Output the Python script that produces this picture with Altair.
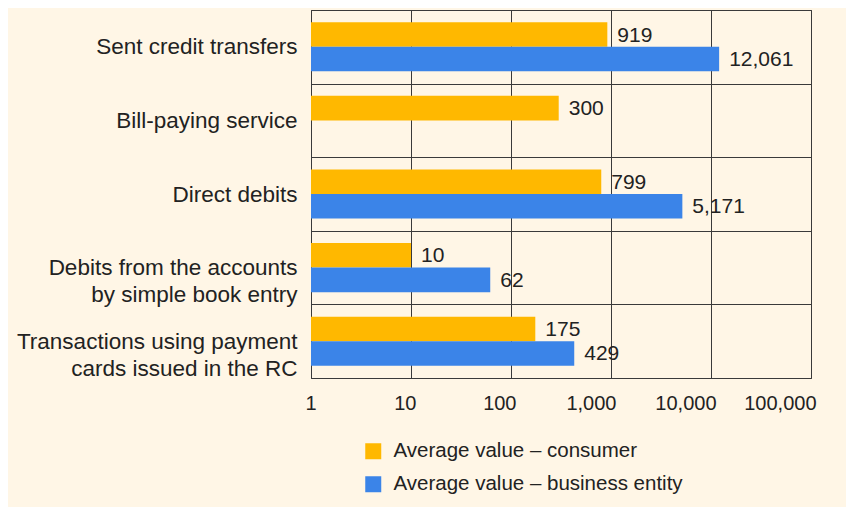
import altair as alt
import pandas as pd

categories = [
    "Sent credit transfers",
    "Bill-paying service",
    "Direct debits",
    "Debits from the accounts\nby simple book entry",
    "Transactions using payment\ncards issued in the RC",
]
consumer = [919, 300, 799, 10, 175]
business = [12061, None, 5171, 62, 429]
series = ["Average value – consumer", "Average value – business entity"]
colors = ["#FFB800", "#3B84E8"]
x_ticks = [1, 10, 100, 1000, 10000, 100000]

rows = []
for c, a, b in zip(categories, consumer, business):
    rows.append({"category": c, "series": series[0], "value": a})
    if b is not None:
        rows.append({"category": c, "series": series[1], "value": b})
df = pd.DataFrame(rows)

FONT = "Liberation Sans"
TEXT = "#222222"
LINE = "#3a3a3a"

base = alt.Chart(df).encode(
    y=alt.Y(
        "category:N",
        sort=categories,
        title=None,
        scale=alt.Scale(paddingInner=0, paddingOuter=0),
        axis=alt.Axis(
            tickBand="extent",
            ticks=False,
            domain=False,
            grid=True,
            labelExpr="split(datum.label, '\\n')",
            labelFontSize=22.5,
            labelLineHeight=27,
            labelPadding=14,
            labelLimit=400,
        ),
    ),
    yOffset=alt.YOffset(
        "series:N", sort=series,
        scale=alt.Scale(domain=series, paddingInner=0, paddingOuter=0.5),
    ),
)

xscale = alt.Scale(type="log", domain=[1, 100000])

xenc = alt.X(
    "value:Q",
    title=None,
    scale=xscale,
    stack=None,
    axis=alt.Axis(
        values=x_ticks,
        format=",d",
        grid=True,
        ticks=False,
        domain=False,
        labelFontSize=20,
        labelPadding=15,
        labelAlign="right",
        labelOffset=5,
        labelFlush=False,
    ),
)

bars = base.mark_bar().encode(
    x=xenc,
    x2=alt.value(0),
    color=alt.Color(
        "series:N",
        sort=series,
        scale=alt.Scale(domain=series, range=colors),
        legend=alt.Legend(
            title=None,
            orient="none",
            legendX=52,
            legendY=431,
            direction="vertical",
            symbolType="square",
            symbolSize=256,
            symbolStrokeWidth=0,
            symbolOpacity=1,
            labelFontSize=20.5,
            labelFont=FONT,
            labelColor=TEXT,
            labelOffset=10,
            rowPadding=12,
            labelLimit=400,
        ),
    ),
)

labels = base.mark_text(
    align="left", baseline="middle", dx=10, dy=1, fontSize=21, font=FONT, color=TEXT
).encode(
    x=alt.X("value:Q", scale=xscale, stack=None),
    text=alt.Text("value:Q", format=",d"),
)

chart = (
    alt.layer(bars, labels)
    .properties(
        width=500,
        height=368,
        background="#FFF6E6",
        padding={"left": 8, "top": -9, "right": 30, "bottom": 12},
    )
    .configure_axis(
        labelFont=FONT,
        labelColor=TEXT,
        gridColor=LINE,
        gridWidth=1,
        gridOpacity=1,
    )
    .configure_view(stroke=LINE, strokeWidth=1)
)

chart.save("out.html", embed_options={"renderer": "svg", "actions": False})
